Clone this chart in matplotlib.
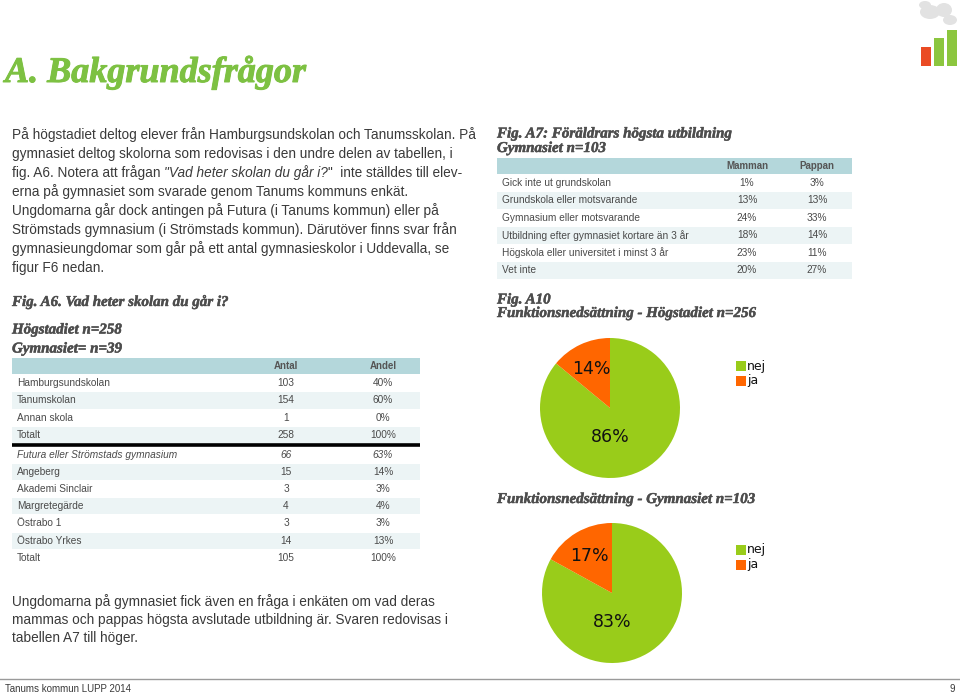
import math
import matplotlib
matplotlib.use('Agg')
import matplotlib.pyplot as plt
import matplotlib.patheffects as pe
from matplotlib.patches import Rectangle, Ellipse

W, H = 960, 694

# ---- data ----
intro_para1 = [
    'På högstadiet deltog elever från Hamburgsundskolan och Tanumsskolan. På',
    'gymnasiet deltog skolorna som redovisas i den undre delen av tabellen, i',
    None,  # line with italic question, built below
    'erna på gymnasiet som svarade genom Tanums kommuns enkät.',
]
intro_para2 = [
    'Ungdomarna går dock antingen på Futura (i Tanums kommun) eller på',
    'Strömstads gymnasium (i Strömstads kommun). Därutöver finns svar från',
    'gymnasieungdomar som går på ett antal gymnasieskolor i Uddevalla, se',
    'figur F6 nedan.',
]
outro_lines = [
    'Ungdomarna på gymnasiet fick även en fråga i enkäten om vad deras',
    'mammas och pappas högsta avslutade utbildning är. Svaren redovisas i',
    'tabellen A7 till höger.',
]

hog_schools = ['Hamburgsundskolan', 'Tanumskolan', 'Annan skola', 'Totalt']
hog_antal = [103, 154, 1, 258]
hog_andel = [40, 60, 0, 100]

gym_schools = ['Futura eller Strömstads gymnasium', 'Angeberg', 'Akademi Sinclair',
               'Margretegärde', 'Östrabo 1', 'Östrabo Yrkes', 'Totalt']
gym_antal = [66, 15, 3, 4, 3, 14, 105]
gym_andel = [63, 14, 3, 4, 3, 13, 100]

a7_categories = ['Gick inte ut grundskolan', 'Grundskola eller motsvarande',
                 'Gymnasium eller motsvarande', 'Utbildning efter gymnasiet kortare än 3 år',
                 'Högskola eller universitet i minst 3 år', 'Vet inte']
a7_mamman = [1, 13, 24, 18, 23, 20]
a7_pappan = [3, 13, 33, 14, 11, 27]

pie_labels = ['nej', 'ja']
hog_pie = [86, 14]
gym_pie = [83, 17]

logo_bars = [0.52, 0.78, 1.0]

# ---- style ----
GREEN_TITLE = '#7dc142'
TXT = '#3a3a3a'
TBL_TXT = '#4a4a4a'
HEAD_BG = '#b4d7db'
ROW_BG = '#ecf4f5'
PIE_GREEN = '#99cc1a'
PIE_ORANGE = '#ff6600'
SANS = 'Liberation Sans'
SERIF = 'Liberation Serif'

fig = plt.figure(figsize=(W / 100, H / 100), dpi=100)
page = fig.add_axes([0, 0, 1, 1])
page.set_xlim(0, W)
page.set_ylim(H, 0)
page.axis('off')


def head(x, y, s, size=10.8, color='#4d4d4d'):
    # heavy poster-like serif: bold italic thickened with a thin stroke
    page.text(x, y, s, fontsize=size, family=SERIF, weight='bold', style='italic',
              color=color, va='center',
              path_effects=[pe.withStroke(linewidth=0.35, foreground=color)])


def body(x, y, s, **kw):
    return page.text(x, y, s, fontsize=9.8, family=SANS, color=TXT, va='center', **kw)


# title
page.text(5, 73, 'A. Bakgrundsfrågor', fontsize=26, family=SERIF, weight='bold',
          style='italic', color=GREEN_TITLE, va='center',
          path_effects=[pe.withStroke(linewidth=0.7, foreground=GREEN_TITLE)])

# intro text
fig.canvas.draw()
renderer = fig.canvas.get_renderer()
for i, line in enumerate(intro_para1):
    y = 134.5 + i * 19
    if line is None:
        x = 12
        for piece, st in [('fig. A6. Notera att frågan ', 'normal'),
                          ('"Vad heter skolan du går i?', 'italic'),
                          ('"  inte ställdes till elev-', 'normal')]:
            t = body(x, y, piece, style=st)
            x += t.get_window_extent(renderer).width
    else:
        body(12, y, line)
for i, line in enumerate(intro_para2):
    body(12, 211 + i * 19, line)
for i, line in enumerate(outro_lines):
    body(12, 602 + i * 18, line)

# ---- table A6 ----
head(12, 302, 'Fig. A6. Vad heter skolan du går i?')
head(12, 330, 'Högstadiet n=258')
head(12, 349, 'Gymnasiet= n=39')

tx0, tx1 = 12, 420
col_antal, col_andel = 286, 383
page.add_patch(Rectangle((tx0, 358), tx1 - tx0, 16, color=HEAD_BG, lw=0))
for cx, lab in [(col_antal, 'Antal'), (col_andel, 'Andel')]:
    page.text(cx, 366, lab, fontsize=7, family=SANS, weight='bold', color='#555555',
              ha='center', va='center')


def table_rows(names, c1, c2, top, rh, italic_first=False):
    for i, (n, a, b) in enumerate(zip(names, c1, c2)):
        yt = top + i * rh
        if i % 2 == 1:
            page.add_patch(Rectangle((tx0, yt + 0.5), tx1 - tx0, rh - 1, color=ROW_BG, lw=0))
        st = 'italic' if (italic_first and i == 0) else 'normal'
        yc = yt + rh / 2
        page.text(tx0 + 5, yc, n, fontsize=7.3, family=SANS, color=TBL_TXT, va='center', style=st)
        page.text(col_antal, yc, str(a), fontsize=7.3, family=SANS, color=TBL_TXT,
                  ha='center', va='center', style=st)
        page.text(col_andel, yc, f'{b}%', fontsize=7.3, family=SANS, color=TBL_TXT,
                  ha='center', va='center', style=st)


table_rows(hog_schools, hog_antal, hog_andel, 374, 17.5)
page.plot([tx0, tx1], [444.5, 444.5], color='black', lw=2.6, solid_capstyle='butt')
table_rows(gym_schools, gym_antal, gym_andel, 446, 17.2, italic_first=True)

# ---- table A7 ----
head(497, 134, 'Fig. A7: Föräldrars högsta utbildning')
head(497, 148.5, 'Gymnasiet n=103')
ax0, ax1 = 497, 852
col_m, col_p = 747, 817
page.add_patch(Rectangle((ax0, 158), ax1 - ax0, 16, color=HEAD_BG, lw=0))
for cx, lab in [(col_m, 'Mamman'), (col_p, 'Pappan')]:
    page.text(cx, 166, lab, fontsize=7, family=SANS, weight='bold', color='#555555',
              ha='center', va='center')
rh = 17.5
for i, (c, m, p) in enumerate(zip(a7_categories, a7_mamman, a7_pappan)):
    yt = 174 + i * rh
    if i % 2 == 1:
        page.add_patch(Rectangle((ax0, yt + 0.5), ax1 - ax0, rh - 1, color=ROW_BG, lw=0))
    yc = yt + rh / 2
    page.text(ax0 + 5, yc, c, fontsize=7.3, family=SANS, color=TBL_TXT, va='center')
    page.text(col_m, yc, f'{m}%', fontsize=7.3, family=SANS, color=TBL_TXT, ha='center', va='center')
    page.text(col_p, yc, f'{p}%', fontsize=7.3, family=SANS, color=TBL_TXT, ha='center', va='center')

# ---- pies ----
head(497, 300, 'Fig. A10')
head(497, 313.5, 'Funktionsnedsättning - Högstadiet n=256')
head(497, 499.5, 'Funktionsnedsättning - Gymnasiet n=103')


def pie_at(cx, cy, r, values, leg_y):
    pax = fig.add_axes([(cx - r) / W, (H - cy - r) / H, 2 * r / W, 2 * r / H])
    pax.pie(values, colors=[PIE_GREEN, PIE_ORANGE], startangle=90, counterclock=False,
            radius=1, wedgeprops=dict(lw=0))
    pax.set_xlim(-1, 1)
    pax.set_ylim(-1, 1)
    pax.axis('off')
    # small slice label at the slice middle, big one under the centre
    mid = math.radians(90 + values[1] / 100 * 360 / 2)
    pax.text(0.62 * math.cos(mid), 0.62 * math.sin(mid), f'{values[1]}%', fontsize=12.5,
             family='DejaVu Sans', ha='center', va='center', color='#111111')
    pax.text(0, -0.41, f'{values[0]}%', fontsize=12.5, family='DejaVu Sans',
             ha='center', va='center', color='#111111')
    for k, (lab, col) in enumerate(zip(pie_labels, [PIE_GREEN, PIE_ORANGE])):
        yy = leg_y + k * 14.5
        page.add_patch(Rectangle((736, yy - 5), 10, 10, color=col, lw=0))
        page.text(747, yy, lab, fontsize=9, family='DejaVu Sans', color='#111111', va='center')


pie_at(610, 408, 70, hog_pie, 366)
pie_at(612, 593, 70, gym_pie, 550)

# ---- logo ----
for ex, ey, ew, eh in [(930, 12, 20, 14), (944, 10, 16, 14), (950, 20, 14, 10), (925, 5, 12, 8)]:
    page.add_patch(Ellipse((ex, ey), ew, eh, color='#e2e2e2', lw=0))
lax = fig.add_axes([920 / W, (H - 66) / H, 38 / W, 36 / H])
lax.bar(range(len(logo_bars)), logo_bars, width=0.72, color=['#ea4b24', '#8cc63f', '#8cc63f'])
lax.set_xlim(-0.45, 2.45)
lax.set_ylim(0, 1)
lax.axis('off')

# ---- footer ----
page.plot([0, W], [679, 679], color='#9a9a9a', lw=1)
page.text(5, 689, 'Tanums kommun LUPP 2014', fontsize=7, family=SANS, color=TXT, va='center')
page.text(955, 689, '9', fontsize=7, family=SANS, color=TXT, va='center', ha='right')

fig.savefig('out.png', dpi=100)
